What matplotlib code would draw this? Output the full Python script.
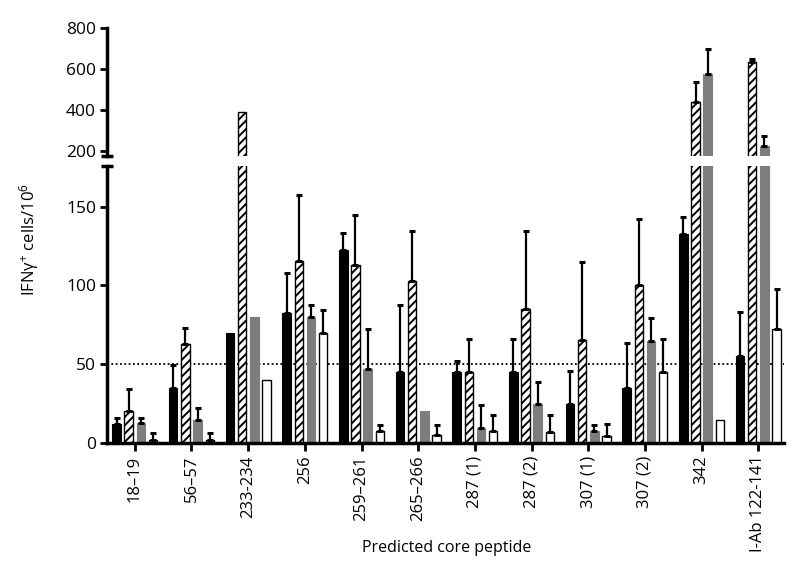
import numpy as np
import matplotlib
matplotlib.use("Agg")
import matplotlib.pyplot as plt

plt.rcParams['font.family'] = ['Open Sans', 'DejaVu Sans']
plt.rcParams['mathtext.fontset'] = 'custom'
plt.rcParams['mathtext.rm'] = 'Open Sans'
plt.rcParams['mathtext.it'] = 'Open Sans'
plt.rcParams['hatch.linewidth'] = 1.4

categories = ['18–19', '56–57', '233-234', '256', '259–261', '265–266',
              '287 (1)', '287 (2)', '307 (1)', '307 (2)', '342', 'I-Ab 122-141']

black = [12.3, 35, 70, 82.7, 122.8, 45, 45, 45, 25, 35, 132.8, 55]
black_err = [3.6, 14.7, 0, 25.1, 10.6, 42.7, 7, 21.2, 21, 28.5, 10.5, 28.1]
hatched = [20.3, 62.6, 388, 115.4, 112.7, 102.7, 45, 85.2, 65.1, 100, 437, 636]
hatched_err = [13.7, 10.6, 0, 42.3, 32.1, 31.8, 21.2, 49.3, 49.7, 42.3, 98, 12]
gray = [12.7, 14.8, 80, 80, 47.1, 20, 9.7, 25, 7.6, 64.7, 576, 224]
gray_err = [3.2, 7.2, 0, 7.3, 25.4, 0, 14.2, 13.9, 3.6, 14.8, 121, 50]
white = [1.7, 2.1, 39.7, 70, 7.6, 4.9, 7.6, 7, 4.2, 45, 14.8, 72.5]
white_err = [4.6, 4.2, 0, 14.6, 3.6, 6.7, 10.4, 11, 7.6, 21.2, 0, 25]

threshold = 50

series = [
    (black, black_err, dict(color='black', edgecolor='black', linewidth=0.8)),
    (hatched, hatched_err, dict(color='white', edgecolor='black', hatch='////', linewidth=1.0)),
    (gray, gray_err, dict(color='#7d7d7d', edgecolor='#7d7d7d', linewidth=0.8)),
    (white, white_err, dict(color='white', edgecolor='black', linewidth=1.0)),
]

fig = plt.figure(figsize=(8, 5.8), dpi=100)
left, width = 0.1338, 0.846
ax_up = fig.add_axes([left, 0.7310, width, 0.2202])
ax_lo = fig.add_axes([left, 0.2362, width, 0.4781])

x = np.arange(len(categories))
bw = 0.15
step = 0.215

for ax in (ax_up, ax_lo):
    for k, (vals, errs, style) in enumerate(series):
        pos = x + (k - 1.5) * step
        ax.bar(pos, vals, width=bw, zorder=2, **style)
        vals_a = np.array(vals, float)
        errs_a = np.array(errs, float)
        m = errs_a > 0
        ax.errorbar(pos[m], vals_a[m], yerr=[np.zeros(m.sum()), errs_a[m]],
                    fmt='none', ecolor='black', elinewidth=1.6, capsize=2.5,
                    capthick=2.2, zorder=3)
    ax.set_xlim(-0.49, 11.45)
    for s in ('top', 'right'):
        ax.spines[s].set_visible(False)
    ax.spines['left'].set_linewidth(2.5)
    ax.tick_params(axis='y', direction='out', length=5, width=2, labelsize=12.5, pad=3)

ax_up.set_ylim(175, 800)
ax_up.set_yticks([200, 400, 600, 800])
ax_up.spines['bottom'].set_visible(False)
ax_up.tick_params(axis='x', bottom=False, labelbottom=False)

ax_lo.set_ylim(0, 176)
ax_lo.set_yticks([0, 50, 100, 150])
ax_lo.spines['bottom'].set_linewidth(2.5)
ax_lo.spines['bottom'].set_zorder(5)
ax_lo.set_xticks(x)
ax_lo.set_xticklabels(categories, rotation=90, fontsize=12)
ax_lo.tick_params(axis='x', direction='out', length=6, width=2, pad=3)
ax_lo.axhline(threshold, color='black', linestyle=(0, (1, 1.4)), linewidth=1.3, zorder=1)

# break marks
ax_up.plot([0], [0], marker='_', markersize=9, mew=2.5, color='black',
           transform=ax_up.transAxes, clip_on=False)
ax_lo.plot([0], [1], marker='_', markersize=9, mew=2.5, color='black',
           transform=ax_lo.transAxes, clip_on=False)

fig.text(0.036, 1 - 240 / 580, r'IFNγ$^{+}$ cells/10$^{6}$', rotation=90,
         ha='center', va='center', fontsize=12)
fig.text(0.558, 1 - 548 / 580, 'Predicted core peptide', ha='center', va='center',
         fontsize=11.5)

fig.savefig('out.png', dpi=100)
